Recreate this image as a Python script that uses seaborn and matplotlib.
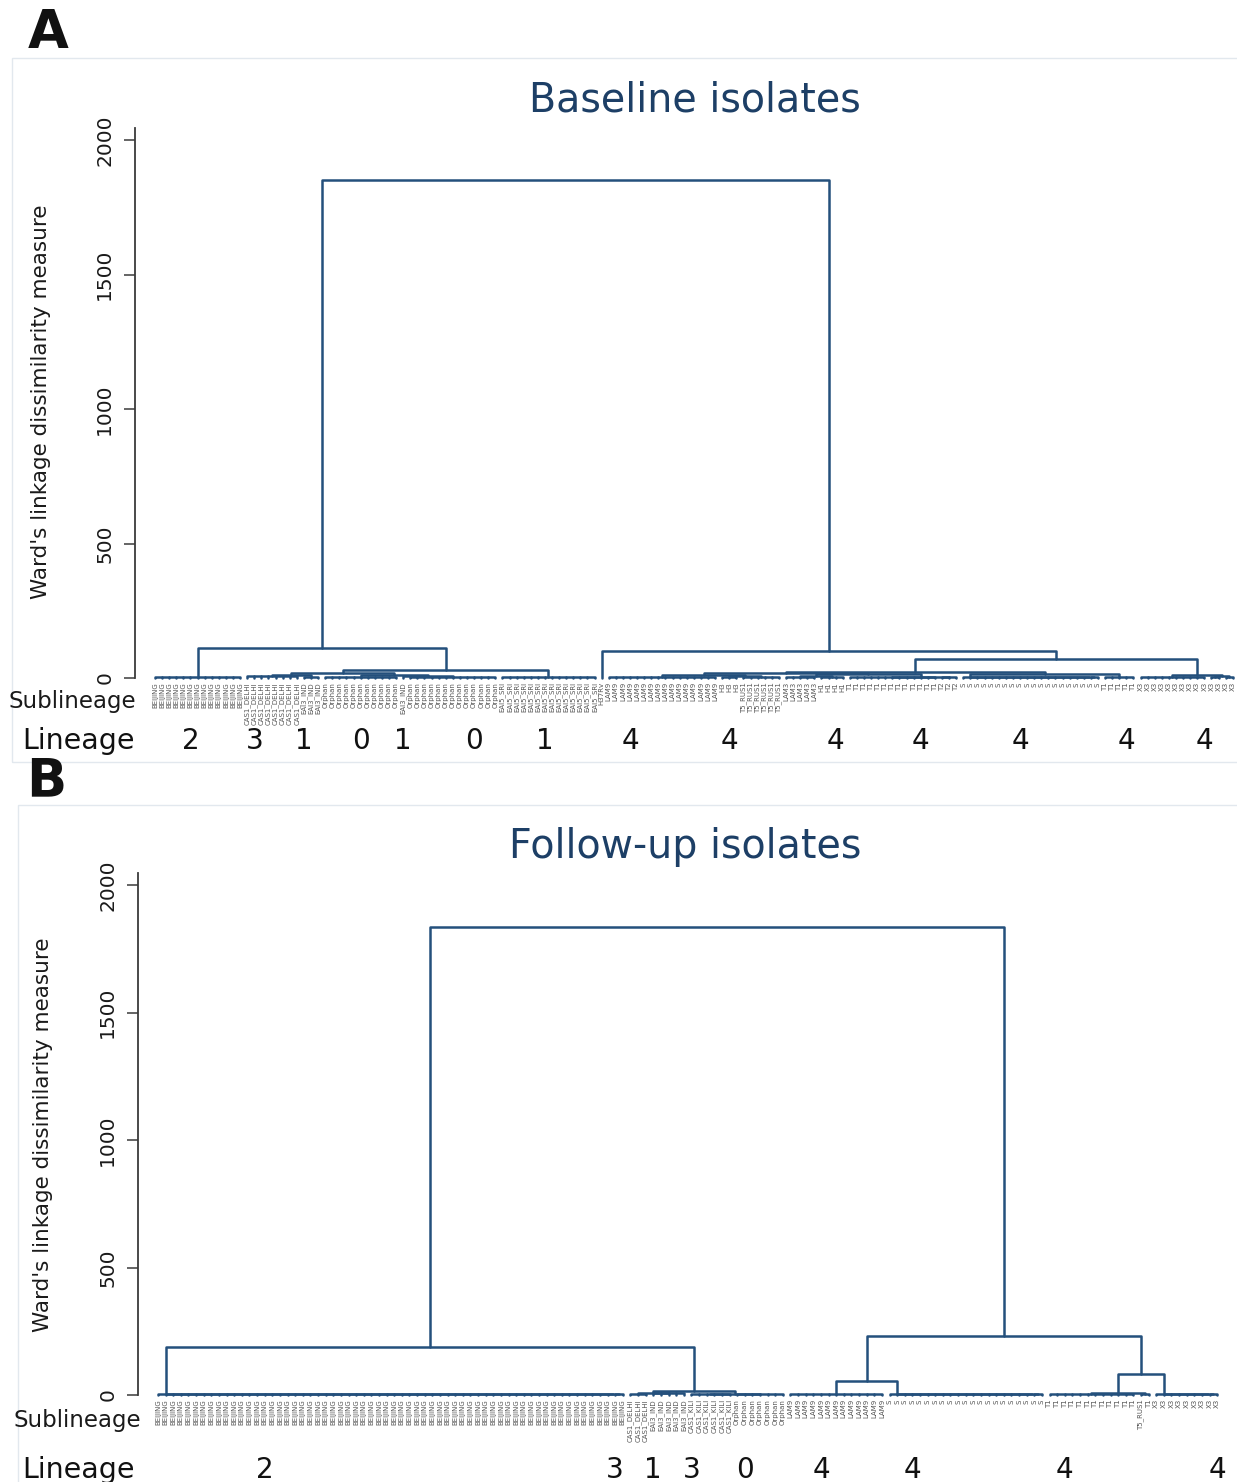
import numpy as np
import pandas as pd
import matplotlib
matplotlib.use("Agg")
import matplotlib.pyplot as plt
import matplotlib.transforms as mtransforms
from matplotlib.patches import Rectangle
import seaborn as sns

# ---------------- Panel A: baseline isolates ----------------
A_GROUP_LABELS = ["BEIJING", "CAS1_DELHI", "EAI3_IND", "Orphan", "EAI3_IND", "Orphan", "EAI5_SRI",
                  "H37Rv", "LAM9", "H3", "T5_RUS1", "LAM3", "H1", "T1", "T2", "S", "T1", "X3", "X3", "X3"]
A_GROUP_SIZES = [13, 8, 3, 11, 1, 13, 14, 1, 16, 3, 6, 5, 4, 13, 3, 20, 5, 10, 2, 2]
A_GROUP_HEIGHTS = [4, 6, 3, 5, 0, 4, 3, 0, 3, 2, 4, 3, 2, 3, 2, 3, 2, 3, 2, 2]
A_CHAIN = [15]
# (left id, right id, height); ids >= number of groups refer to earlier merges
A_MERGES = [(1, 2, 10), (4, 5, 6), (3, 21, 12), (20, 22, 18), (23, 6, 30), (0, 24, 112),
            (9, 10, 6), (8, 26, 12), (11, 12, 8), (13, 14, 5), (28, 29, 14), (27, 30, 20),
            (15, 16, 16), (31, 32, 24), (18, 19, 6), (17, 34, 10), (33, 35, 71), (7, 36, 100),
            (25, 37, 1851)]
A_LINEAGE = ["2", "3", "1", "0", "1", "0", "1", "4", "4", "4", "4", "4", "4", "4"]
A_LINEAGE_LEAF = [5, 14, 21, 29, 35, 45, 55, 67, 81, 96, 108, 122, 137, 148]

# ---------------- Panel B: follow-up isolates ----------------
B_GROUP_LABELS = ["BEIJING", "CAS1_DELHI", "EAI3_IND", "CAS1_KILI", "Orphan", "LAM9", "S",
                  "T1", "T5_RUS1", "T1", "X3"]
B_GROUP_SIZES = [62, 3, 5, 6, 7, 13, 21, 12, 1, 1, 9]
B_GROUP_HEIGHTS = [2, 3, 6, 5, 4, 3, 3, 4, 0, 0, 3]
B_CHAIN = [0, 6, 10]
B_MERGES = [(1, 2, 8), (3, 4, 4), (11, 12, 14), (0, 13, 188), (5, 6, 55), (8, 9, 2),
            (7, 16, 6), (17, 10, 82), (15, 18, 231), (14, 19, 1835)]
B_LINEAGE = ["2", "3", "1", "3", "0", "4", "4", "4", "4"]
B_LINEAGE_LEAF = [14, 60, 65, 70, 77, 87, 99, 119, 139]

Y_TICKS = [0, 500, 1000, 1500, 2000]
TITLES = ["Baseline isolates", "Follow-up isolates"]
YLABEL = "Ward's linkage dissimilarity measure"

LINE = "#24507c"
TITLE_C = "#1d3f66"


def dendro_segments(sizes, heights, merges, chain):
    starts = np.concatenate([[0], np.cumsum(sizes)[:-1]])
    pos, top, rows = {}, {}, []
    seg = 0
    for g, (s, n, h) in enumerate(zip(starts, sizes, heights)):
        leaves = list(range(s, s + n))
        if n == 1:
            pos[g], top[g] = float(s), 0.0
            continue
        if g in chain:
            # tied isolates joined one by one, as Stata draws them
            p, ph = float(leaves[-1]), 0.0
            for x in reversed(leaves[:-1]):
                rows += [(seg, x, 0), (seg, x, h), (seg, p, h), (seg, p, ph)]
                seg += 1
                p, ph = (x + p) / 2, h
            pos[g] = p
        else:
            rows += [(seg, leaves[0], 0), (seg, leaves[0], h), (seg, leaves[-1], h), (seg, leaves[-1], 0)]
            seg += 1
            for x in leaves[1:-1]:
                rows += [(seg, x, 0), (seg, x, h)]
                seg += 1
            pos[g] = float(np.mean(leaves))
        top[g] = h
    nid = len(sizes)
    for l, r, h in merges:
        rows += [(seg, pos[l], top[l]), (seg, pos[l], h), (seg, pos[r], h), (seg, pos[r], top[r])]
        seg += 1
        pos[nid], top[nid] = (pos[l] + pos[r]) / 2, h
        nid += 1
    return pd.DataFrame(rows, columns=["seg", "x", "y"])


sns.set_theme(style="white")
plt.rcParams["font.family"] = ["DejaVu Sans"]

W, H = 1237, 1482
fig = plt.figure(figsize=(W / 100, H / 100), dpi=100)


def fx(px):
    return px / W


def fy(py):
    return 1 - py / H


panels = [
    dict(labels=A_GROUP_LABELS, sizes=A_GROUP_SIZES, heights=A_GROUP_HEIGHTS, chain=A_CHAIN,
         merges=A_MERGES, lin=A_LINEAGE, lin_leaf=A_LINEAGE_LEAF,
         box=(12, 58, 762), axpx=(135, 128, 678), leaf0=155, step=7.09,
         title=(695, 100), letter=(28, 33), ylab=(41, 402), sub=(9, 702), linrow=(22, 741)),
    dict(labels=B_GROUP_LABELS, sizes=B_GROUP_SIZES, heights=B_GROUP_HEIGHTS, chain=B_CHAIN,
         merges=B_MERGES, lin=B_LINEAGE, lin_leaf=B_LINEAGE_LEAF,
         box=(18, 805, 1490), axpx=(138, 873, 1395), leaf0=158, step=7.62,
         title=(685, 847), letter=(26, 781), ylab=(43, 1135), sub=(14, 1421), linrow=(22, 1470)),
]

for i, p in enumerate(panels):
    bx, by0, by1 = p["box"]
    fig.add_artist(Rectangle((fx(bx), fy(by1)), 1.0, (by1 - by0) / H, transform=fig.transFigure,
                             fill=False, edgecolor="#e2e8ee", lw=1.0))
    left, ptop, pbot = p["axpx"]
    ax = fig.add_axes([fx(left), fy(pbot), fx(W - left), (pbot - ptop) / H])
    df = dendro_segments(p["sizes"], p["heights"], p["merges"], p["chain"])
    sns.lineplot(data=df, x="x", y="y", units="seg", estimator=None, sort=False,
                 color=LINE, lw=1.8, ax=ax)
    for ln in ax.lines:
        ln.set_clip_on(False)
    n = int(sum(p["sizes"]))
    x0 = -(p["leaf0"] - left) / p["step"]
    x1 = x0 + (W - left) / p["step"]
    ax.set_xlim(x0, x1)
    ymax = 2000 * (pbot - ptop) / ((pbot - ptop) - 12)
    ax.set_ylim(0, ymax)
    ax.set_xlabel("")
    ax.set_ylabel("")
    sns.despine(ax=ax, top=True, right=True, bottom=True)
    ax.spines["left"].set_color("#3a3a3a")
    ax.spines["left"].set_linewidth(1.3)
    ax.set_yticks(Y_TICKS)
    ax.set_yticklabels([str(t) for t in Y_TICKS], rotation=90, va="center")
    ax.tick_params(axis="y", left=True, length=8, width=1.1, color="#3a3a3a", pad=7,
                   labelsize=14.5, labelcolor="#1a1a1a")
    leaf_labels = np.repeat(p["labels"], p["sizes"])
    ax.set_xticks(np.arange(n))
    ax.set_xticklabels(leaf_labels, rotation=90, fontsize=5, color="#555555")
    ax.tick_params(axis="x", length=0, pad=3)
    ax.grid(False)
    ax.patch.set_alpha(0)

    trans = mtransforms.blended_transform_factory(ax.transData, fig.transFigure)
    for lab, leaf in zip(p["lin"], p["lin_leaf"]):
        ax.text(leaf, fy(p["linrow"][1]), lab, transform=trans, ha="center", va="center",
                fontsize=20, color="#111111", clip_on=False)

    fig.text(fx(p["title"][0]), fy(p["title"][1]), TITLES[i], ha="center", va="center",
             fontsize=28.5, color=TITLE_C)
    fig.text(fx(p["letter"][0]), fy(p["letter"][1]), "AB"[i], ha="left", va="center",
             fontsize=38, fontweight="heavy", color="#111111")
    fig.text(fx(p["ylab"][0]), fy(p["ylab"][1]), YLABEL, rotation=90, ha="center", va="center",
             fontsize=15.5, color="#1a1a1a")
    fig.text(fx(p["sub"][0]), fy(p["sub"][1]), "Sublineage", ha="left", va="center",
             fontsize=16.5, color="#1a1a1a")
    fig.text(fx(p["linrow"][0]), fy(p["linrow"][1]), "Lineage", ha="left", va="center",
             fontsize=20.5, color="#111111")

fig.savefig("out.png", dpi=100)
